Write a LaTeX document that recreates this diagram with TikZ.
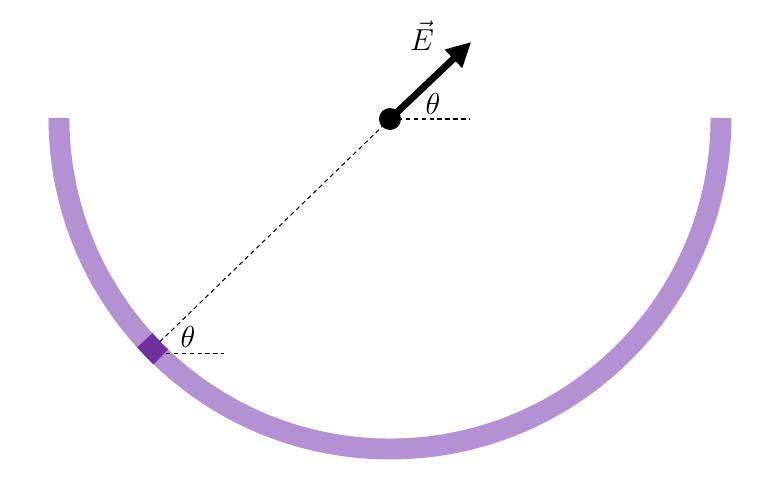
\documentclass[tikz,border=0pt]{standalone}
\usepackage{amsmath,amssymb}
\usetikzlibrary{positioning,arrows.meta,calc}
\tikzset{
  ringarc/.style={draw=ringpurple, line width=11.9pt},
  ringpiece/.style={draw=piecepurple, line width=11.9pt},
  guide/.style={dashed, dash pattern=on 2.5pt off 2pt, line width=0.6pt},
  efield/.style={-{Triangle[length=14pt, width=13.5pt]}, line width=3.9pt},
  chargedot/.style={circle, fill=black, inner sep=0pt, minimum size=12.5pt},
  anglabel/.style={font=\fontsize{19}{21}\selectfont},
}
\definecolor{ringpurple}{RGB}{180,145,210}
\definecolor{piecepurple}{RGB}{112,48,160}

\begin{document}
\begin{tikzpicture}[x=0.02cm, y=0.02cm]
  \useasboundingbox (-390,118) rectangle (388,-371);
  % ring and the small piece of it
  \draw[ringarc] (180:331) arc[start angle=180, end angle=360, radius=331];
  \draw[ringpiece] (222.2:331) arc[start angle=222.2, end angle=226.2, radius=331];
  \coordinate (piece) at (224.2:321);
  \coordinate (piececorner) at ($(piece)+(6,-12)$);
  \node[chargedot] (charge) at (0,-1) {};
  \coordinate (tip) at ($(charge.center)+(43.5:112)$);
  \coordinate (hortop) at ($(charge.center)+(80,0)$);
  \coordinate (horlow) at ($(piececorner)+(58,0)$);
  % guide lines
  \draw[guide] (piece) -- (charge.center);
  \draw[guide] (charge.center) -- (hortop);
  \draw[guide] (piececorner) -- (horlow);
  \draw[efield] (charge.center) -- (tip);
  \node[anglabel] (elabel) at (32,82) {$\vec{E}$};
  \node[anglabel] (thtop) at (43,14) {$\theta$};
  \node[anglabel] (thlow) at (-202,-219) {$\theta$};
\end{tikzpicture}
\end{document}
